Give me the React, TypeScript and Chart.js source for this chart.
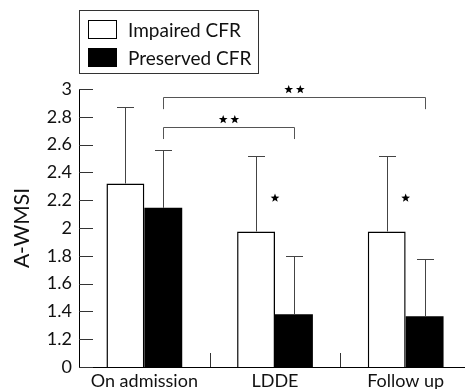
import React, { useEffect, useRef } from "react";
import { Chart, registerables } from "chart.js";
Chart.register(...registerables);

const categories = ["On admission", "LDDE", "Follow up"];
const seriesNames = ["Impaired CFR", "Preserved CFR"];
const impairedMeans = [2.32, 1.975, 1.975];
const preservedMeans = [2.145, 1.38, 1.365];
const impairedUpper = [2.87, 2.52, 2.52];
const preservedUpper = [2.56, 1.795, 1.78];
// broken axis: the bottom value 1 is labelled "0"
const axisBreakValue = 1;
const axisBreakLabel = "0";
const yMin = 1;
const yMax = 3;
const yStep = 0.2;
const yTitle = "A-WMSI";
const brackets = [
  { from: 0, to: 2, level: 2.945, drop: 2.855, stars: 2 },
  { from: 0, to: 1, level: 2.73, drop: 2.64, stars: 2 },
];
const singleStars = [
  { cat: 1, value: 2.215 },
  { cat: 2, value: 2.215 },
];

const FONT = "Lato, 'DejaVu Sans', sans-serif";

function drawStar(ctx: CanvasRenderingContext2D, cx: number, cy: number, r: number) {
  ctx.beginPath();
  for (let i = 0; i < 10; i++) {
    const rad = i % 2 === 0 ? r : r * 0.42;
    const a = -Math.PI / 2 + (i * Math.PI) / 5;
    const x = cx + rad * Math.cos(a);
    const y = cy + rad * Math.sin(a);
    if (i === 0) ctx.moveTo(x, y);
    else ctx.lineTo(x, y);
  }
  ctx.closePath();
  ctx.fill();
}

const annotationsPlugin = {
  id: "annotations",
  afterDatasetsDraw(chart: any) {
    const ctx = chart.ctx as CanvasRenderingContext2D;
    const area = chart.chartArea;
    const xs = chart.scales.x;
    const ys = chart.scales.y;
    ctx.save();
    // error bars
    const uppers = [impairedUpper, preservedUpper];
    const means = [impairedMeans, preservedMeans];
    ctx.strokeStyle = "#444";
    ctx.lineWidth = 1;
    [0, 1].forEach((d) => {
      const meta = chart.getDatasetMeta(d);
      meta.data.forEach((el: any, i: number) => {
        const x = Math.round(el.x) + 0.5;
        const y0 = ys.getPixelForValue(means[d][i]);
        const y1 = Math.round(ys.getPixelForValue(uppers[d][i])) + 0.5;
        ctx.beginPath();
        ctx.moveTo(x, y0);
        ctx.lineTo(x, y1);
        ctx.moveTo(x - 8.5, y1);
        ctx.lineTo(x + 8.5, y1);
        ctx.stroke();
      });
    });
    // inward y ticks
    ctx.strokeStyle = "#333";
    ys.ticks.forEach((t: any) => {
      const y = Math.round(ys.getPixelForValue(t.value)) + 0.5;
      ctx.beginPath();
      ctx.moveTo(area.left, y);
      ctx.lineTo(area.left + 14, y);
      ctx.stroke();
    });
    // category separators
    for (let i = 0; i < categories.length; i++) {
      const c = xs.getPixelForValue(i);
      const n = xs.getPixelForValue(i + 1);
      const x = Math.round((c + n) / 2) + 0.5;
      ctx.beginPath();
      ctx.moveTo(x, area.bottom);
      ctx.lineTo(x, area.bottom - 14);
      ctx.stroke();
    }
    // brackets
    const pmeta = chart.getDatasetMeta(1);
    ctx.strokeStyle = "#555";
    ctx.fillStyle = "#000";
    brackets.forEach((b) => {
      const x1 = Math.round(pmeta.data[b.from].x) + 0.5;
      const x2 = Math.round(pmeta.data[b.to].x) + 0.5;
      const yl = Math.round(ys.getPixelForValue(b.level)) + 0.5;
      const yd = ys.getPixelForValue(b.drop);
      ctx.beginPath();
      ctx.moveTo(x1, yd);
      ctx.lineTo(x1, yl);
      ctx.lineTo(x2, yl);
      ctx.lineTo(x2, yd);
      ctx.stroke();
      const cx = (x1 + x2) / 2;
      const gap = 11.6;
      for (let s = 0; s < b.stars; s++) {
        drawStar(ctx, cx + (s - (b.stars - 1) / 2) * gap, yl - 8, 4.6);
      }
    });
    singleStars.forEach((s) => {
      const cx = xs.getPixelForValue(s.cat);
      drawStar(ctx, cx, ys.getPixelForValue(s.value), 4.6);
    });
    ctx.restore();
  },
};

export default function App() {
  const ref = useRef<HTMLCanvasElement | null>(null);
  useEffect(() => {
    if (!ref.current) return;
    const chart = new Chart(ref.current, {
      type: "bar",
      data: {
        labels: categories,
        datasets: [
          {
            label: seriesNames[0],
            data: impairedMeans,
            base: axisBreakValue,
            backgroundColor: "#ffffff",
            borderColor: "#000000",
            borderWidth: 1.5,
            borderSkipped: "bottom",
            categoryPercentage: 0.58,
            barPercentage: 1,
          } as any,
          {
            label: seriesNames[1],
            data: preservedMeans,
            base: axisBreakValue,
            backgroundColor: "#000000",
            borderColor: "#000000",
            borderWidth: 0,
            categoryPercentage: 0.58,
            barPercentage: 1,
          } as any,
        ],
      },
      options: {
        responsive: false,
        animation: false,
        devicePixelRatio: 1,
        layout: { padding: { top: 89, right: 9, left: 0, bottom: 0 } },
        plugins: { legend: { display: false }, tooltip: { enabled: false } },
        scales: {
          x: {
            grid: { display: false, drawTicks: false },
            border: { display: true, color: "#000", width: 1 },
            ticks: { color: "#111", font: { family: FONT, size: 18 }, padding: 3, maxRotation: 0 },
            afterFit: (s: any) => {
              s.height = 22;
            },
          },
          y: {
            min: yMin,
            max: yMax,
            grid: { display: false, drawTicks: false },
            border: { display: true, color: "#000", width: 1 },
            ticks: {
              stepSize: yStep,
              color: "#111",
              font: { family: FONT, size: 18 },
              padding: 7,
              callback: (v: any) => {
                const n = Math.round(Number(v) * 10) / 10;
                return n === axisBreakValue ? axisBreakLabel : String(n);
              },
            },
            title: {
              display: true,
              text: yTitle,
              color: "#111",
              font: { family: FONT, size: 21 },
              padding: { top: 10, bottom: 0 },
            },
            afterFit: (s: any) => {
              s.width = 79;
            },
          },
        },
      },
      plugins: [annotationsPlugin],
    });
    return () => chart.destroy();
  }, []);

  return (
    <div style={{ position: "absolute", left: 0, top: 0, width: 465, height: 389, overflow: "hidden", background: "#fff" }}>
      <canvas ref={ref} width={480} height={389} style={{ display: "block" }} />
      <div
        style={{
          position: "absolute",
          left: 79,
          top: 10,
          width: 178,
          height: 62,
          border: "1px solid #333",
          fontFamily: FONT,
          fontSize: 19,
          color: "#111",
        }}
      >
        {seriesNames.map((name, i) => (
          <div key={name} style={{ position: "absolute", left: 8, top: 7 + i * 28, height: 22, display: "flex", alignItems: "center" }}>
            <span
              style={{
                display: "inline-block",
                width: 29,
                height: 19,
                boxSizing: "border-box",
                border: "1px solid #000",
                background: i === 0 ? "#fff" : "#000",
                marginRight: 11,
              }}
            />
            <span>{name}</span>
          </div>
        ))}
      </div>
    </div>
  );
}
